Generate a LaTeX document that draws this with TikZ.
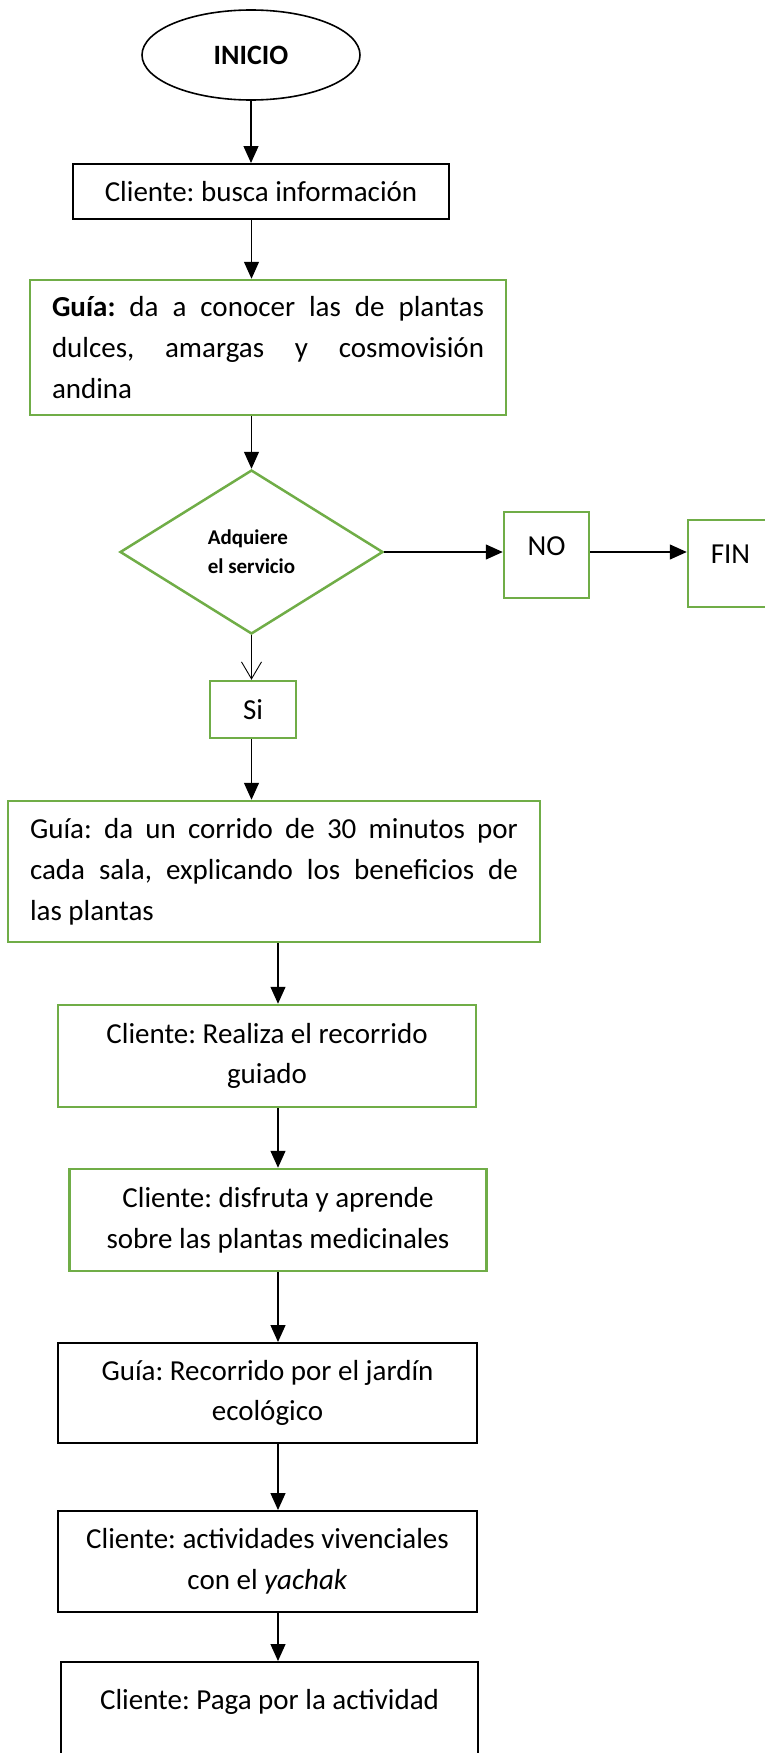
\documentclass[tikz,border=0pt]{standalone}
\usepackage{fontspec}
\setmainfont{Carlito}
\usetikzlibrary{shapes.geometric,arrows.meta}
\definecolor{ogreen}{HTML}{70AD47}
\hyphenpenalty=10000
\tolerance=10000
\frenchspacing
\begin{document}
\frenchspacing
\begin{tikzpicture}[x=1pt,y=-1pt,
  every node/.style={font=\frenchspacing\fontsize{29}{40.8}\selectfont, text=black},
  gbox/.style={draw=ogreen, line width=2.5pt, rectangle, inner sep=0pt},
  bbox/.style={draw=black, line width=2pt, rectangle, inner sep=0pt},
  arr/.style={draw=black, line width=1.3pt, -{Triangle[width=15pt,length=17pt]}},
  openarr/.style={draw=black, line width=0.9pt, -{Straight Barb[width=20pt,length=17pt]}},
]
\useasboundingbox (0,0) rectangle (764,1753);

\node[draw=black, ellipse, line width=1.6pt, minimum width=218pt, minimum height=90pt, inner sep=0pt,
      font=\fontsize{28}{32}\selectfont\bfseries] (inicio) at (251,55) {INICIO};
\node[bbox, minimum width=376pt, minimum height=55pt] (b1) at (261,191.5) {Cliente: busca información};
\node[gbox, minimum width=476pt, minimum height=135pt, text width=432pt, align=justify] (g2) at (268,347.5)
  {\textbf{Guía:} da a conocer las de plantas\linebreak dulces, amargas y cosmovisión\linebreak andina};
\node[gbox, diamond, minimum width=263pt, minimum height=164pt, inner sep=0pt, align=left,
      font=\fontsize{21}{29}\selectfont\bfseries] (d) at (251.5,552) {Adquiere\\el servicio};
\node[gbox, minimum width=85pt, minimum height=86pt] (no) at (546.5,555) {\raisebox{9pt}[\height][\depth]{NO}};
\node[gbox, minimum width=85pt, minimum height=87pt] (fin) at (730.5,563.5) {\raisebox{9pt}[\height][\depth]{FIN}};
\node[gbox, minimum width=86pt, minimum height=57pt] (si) at (253,709.5) {Si};
\node[gbox, minimum width=532pt, minimum height=141pt, text width=488pt, align=justify] (g3) at (274,871.5)
  {Guía: da un corrido de 30 minutos por\linebreak cada sala, explicando los beneficios de\linebreak las plantas};
\node[gbox, minimum width=418pt, minimum height=102pt, align=center] (g4) at (267,1056)
  {Cliente: Realiza el recorrido\\guiado};
\node[gbox, minimum width=417pt, minimum height=102pt, align=center] (g5) at (278,1220)
  {Cliente: disfruta y aprende\\sobre las plantas medicinales};
\node[bbox, minimum width=419pt, minimum height=100pt, align=center] (b6) at (267.5,1393)
  {Guía: Recorrido por el jardín\\ecológico};
\node[bbox, minimum width=419pt, minimum height=101pt, align=center] (b7) at (267.5,1561.5)
  {Cliente: actividades vivenciales\\con el \textit{yachak}};
\node[bbox, minimum width=417pt, minimum height=116pt, align=center] (b8) at (269.5,1720)
  {Cliente: Paga por la actividad\\\mbox{}};

\draw[arr] (inicio.south) -- (inicio.south |- b1.north);
\draw[arr] (b1.south -| d.north) -- (g2.north -| d.north);
\draw[arr] (g2.south -| d.north) -- (d.north);
\draw[arr] (d.east) -- (d.east -| no.west);
\draw[arr] (d.east -| no.east) -- (d.east -| fin.west);
\draw[openarr] (d.south) -- (d.south |- si.north);
\draw[arr] (si.south -| d.south) -- (g3.north -| d.south);
\draw[arr] (g3.south -| g5.north) -- (g4.north -| g5.north);
\draw[arr] (g4.south -| g5.north) -- (g5.north);
\draw[arr] (g5.south) -- (g5.south |- b6.north);
\draw[arr] (b6.south -| g5.south) -- (b7.north -| g5.south);
\draw[arr] (b7.south -| g5.south) -- (b8.north -| g5.south);
\end{tikzpicture}
\end{document}
